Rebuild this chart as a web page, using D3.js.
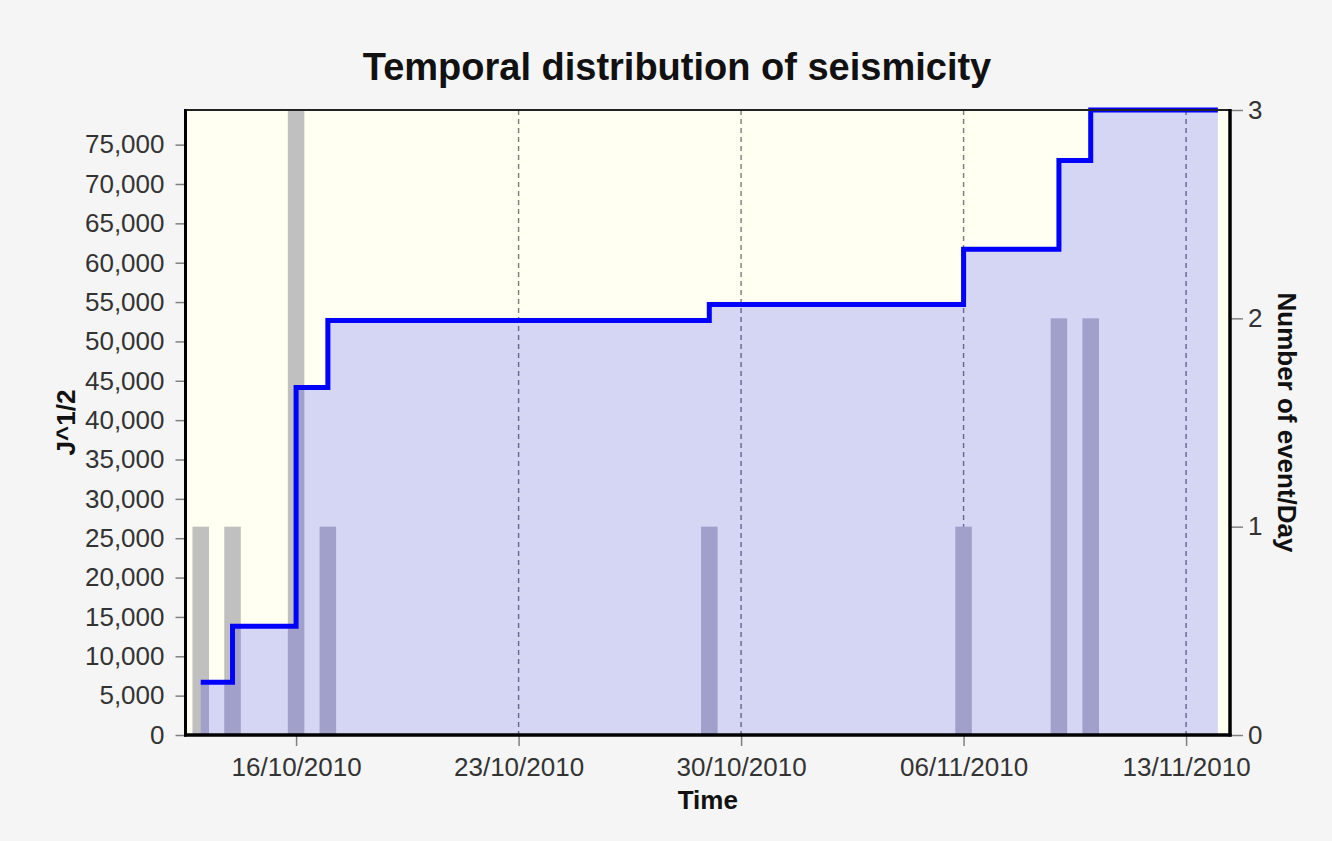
<!DOCTYPE html>
<html>
<head>
<meta charset="utf-8">
<script src="https://cdn.jsdelivr.net/npm/d3@7"></script>
<style>
  html, body { margin: 0; padding: 0; background: #f5f5f5; }
  svg { display: block; }
  text { font-family: "Liberation Sans", Arial, sans-serif; }
</style>
</head>
<body>
<svg id="chart" width="1332" height="841"></svg>
<script>
// ---- data ----
const eventDates = ["2010-10-13", "2010-10-14", "2010-10-16", "2010-10-17", "2010-10-29", "2010-11-06", "2010-11-09", "2010-11-10"];
const eventsPerDay = [1, 1, 3, 1, 1, 1, 2, 2];
const cumulativeJ = [6700, 13800, 44150, 52650, 54700, 61700, 73000, 79400];
const seriesEndDate = "2010-11-14";
const xTickDates = ["2010-10-16", "2010-10-23", "2010-10-30", "2010-11-06", "2010-11-13"];
const leftTicks = [0, 5000, 10000, 15000, 20000, 25000, 30000, 35000, 40000, 45000, 50000, 55000, 60000, 65000, 70000, 75000];
const rightTicks = [0, 1, 2, 3];
const xDomain = ["2010-10-12T12:30", "2010-11-14T09:10"];
const leftMax = 79400;
const rightMax = 3;

const parseDay = d3.utcParse("%Y-%m-%d");
const parseDT = d3.utcParse("%Y-%m-%dT%H:%M");
const fmt = d3.utcFormat("%d/%m/%Y");

const L = 185.5, R = 1230, T = 110, B = 735;
const svg = d3.select("#chart");

const x = d3.scaleUtc().domain(xDomain.map(parseDT)).range([L, R]);
const yL = d3.scaleLinear().domain([0, leftMax]).range([B, T]);
const yR = d3.scaleLinear().domain([0, rightMax]).range([B, T]);

const events = eventDates.map((d, i) => ({ date: parseDay(d), n: eventsPerDay[i], j: cumulativeJ[i] }));
const stepPts = events.map(e => ({ date: e.date, j: e.j }));
stepPts.push({ date: parseDay(seriesEndDate), j: cumulativeJ[cumulativeJ.length - 1] });

// plot background
svg.append("rect").attr("x", L).attr("y", T).attr("width", R - L).attr("height", B - T).attr("fill", "#fffff2");

// vertical dashed gridlines
svg.append("g").selectAll("line").data(xTickDates.map(parseDay)).join("line")
  .attr("x1", d => x(d)).attr("x2", d => x(d)).attr("y1", T).attr("y2", B)
  .attr("stroke", "#7a7a7a").attr("stroke-width", 1.4).attr("stroke-dasharray", "5,4");

// bars (events per day)
const halfW = 0.26 * 24 * 3600 * 1000;
svg.append("g").selectAll("rect").data(events).join("rect")
  .attr("x", d => x(new Date(d.date.getTime() - halfW)))
  .attr("width", d => x(new Date(d.date.getTime() + halfW)) - x(new Date(d.date.getTime() - halfW)))
  .attr("y", d => yR(d.n))
  .attr("height", d => B - yR(d.n))
  .attr("fill", "#c0c0c0");

// area under cumulative step
const area = d3.area().curve(d3.curveStepAfter).x(d => x(d.date)).y0(B).y1(d => yL(d.j));
svg.append("path").datum(stepPts).attr("d", area).attr("fill", "rgba(0,0,255,0.165)");

// step line
const line = d3.line().curve(d3.curveStepAfter).x(d => x(d.date)).y(d => yL(d.j));
svg.append("path").datum(stepPts).attr("d", line).attr("fill", "none")
  .attr("stroke", "#0000ff").attr("stroke-width", 5);

// axes
const axisStyle = g => {
  g.select(".domain").remove();
  g.selectAll(".tick line").attr("stroke", "#808080").attr("stroke-width", 1.5);
  g.selectAll(".tick text").attr("fill", "#333").style("font-size", "26px")
    .style("font-family", "'Liberation Sans', Arial, sans-serif");
};
svg.append("g").attr("transform", `translate(${L - 1},0)`)
  .call(d3.axisLeft(yL).tickValues(leftTicks).tickFormat(d3.format(",")).tickSize(9).tickPadding(11))
  .call(axisStyle);
svg.append("g").attr("transform", `translate(${R + 1},0)`)
  .call(d3.axisRight(yR).tickValues(rightTicks).tickFormat(d3.format("d")).tickSize(12).tickPadding(5))
  .call(axisStyle);
svg.append("g").attr("transform", `translate(0,${B + 1})`)
  .call(d3.axisBottom(x).tickValues(xTickDates.map(parseDay)).tickFormat(fmt).tickSize(10).tickPadding(12))
  .call(axisStyle);

// frame lines
svg.append("line").attr("x1", L).attr("x2", R).attr("y1", T).attr("y2", T).attr("stroke", "#222").attr("stroke-width", 2);
svg.append("line").attr("x1", L).attr("x2", L).attr("y1", T - 1).attr("y2", B + 1.5).attr("stroke", "#000").attr("stroke-width", 3);
svg.append("line").attr("x1", R).attr("x2", R).attr("y1", T - 1).attr("y2", B + 1.5).attr("stroke", "#000").attr("stroke-width", 3.5);
svg.append("line").attr("x1", L - 1.5).attr("x2", R + 1.5).attr("y1", B).attr("y2", B).attr("stroke", "#000").attr("stroke-width", 3.5);

// titles
svg.append("text").attr("x", 677).attr("y", 80).attr("text-anchor", "middle")
  .style("font-size", "38px").style("font-weight", "bold").attr("fill", "#111")
  .text("Temporal distribution of seismicity");
svg.append("text").attr("x", (L + R) / 2).attr("y", 809).attr("text-anchor", "middle")
  .style("font-size", "26px").style("font-weight", "bold").attr("fill", "#111").text("Time");
svg.append("text").attr("transform", `translate(75,${(T + B) / 2}) rotate(-90)`).attr("text-anchor", "middle")
  .style("font-size", "26px").style("font-weight", "bold").attr("fill", "#111").text("J^1/2");
svg.append("text").attr("transform", `translate(1278,${(T + B) / 2}) rotate(90)`).attr("text-anchor", "middle")
  .style("font-size", "26px").style("font-weight", "bold").attr("fill", "#111").text("Number of event/Day");
</script>
</body>
</html>
